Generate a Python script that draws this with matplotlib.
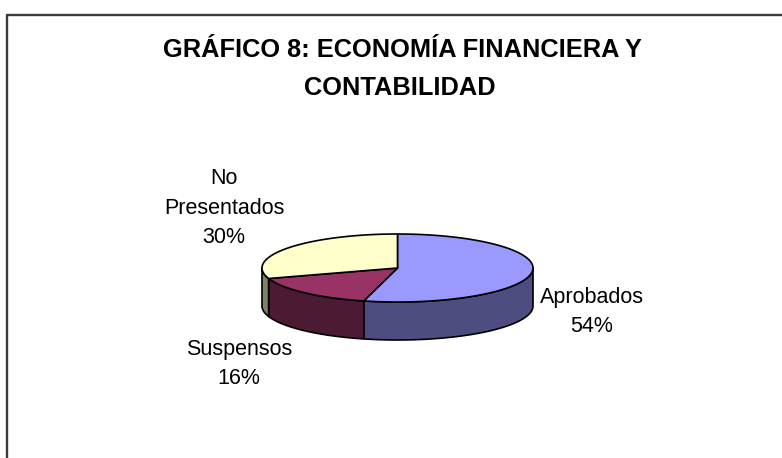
import numpy as np
import matplotlib
matplotlib.use("Agg")
import matplotlib.pyplot as plt
from matplotlib.patches import Polygon

# data
labels = ["Aprobados", "Suspensos", "No\nPresentados"]
values = [54, 16, 30]
top_colors = ["#9999FF", "#993366", "#FFFFCC"]
side_colors = ["#4D4D80", "#4D1A33", "#808066"]

# label centres (pixels) as placed in the original chart
label_pos = [(592, 312), (239, 364), (224, 208)]

plt.rcParams['font.family'] = ['Liberation Sans', 'DejaVu Sans']

fig = plt.figure(figsize=(7.82, 4.58), dpi=100)
ax = fig.add_axes([0, 0, 1, 1])
ax.set_xlim(0, 782)
ax.set_ylim(458, 0)
ax.axis('off')

# chart frame (only top and left visible)
ax.plot([7, 7], [15, 458], color="#3a3a3a", lw=1.7, solid_capstyle='butt')
ax.plot([6, 782], [15, 15], color="#3a3a3a", lw=1.7, solid_capstyle='butt')

ax.text(402, 50, "GRÁFICO 8: ECONOMÍA FINANCIERA Y", ha='center', va='center',
        fontsize=18.3, fontweight='bold')
ax.text(400, 88, "CONTABILIDAD", ha='center', va='center',
        fontsize=18.3, fontweight='bold')

# 3d pie geometry
cx, cy, rx, ry, depth = 397.5, 268, 135.5, 34, 38


def pt(a):
    return cx + rx * np.cos(np.radians(a)), cy - ry * np.sin(np.radians(a))


fracs = np.array(values) / np.sum(values)
starts = 90 - 360 * np.concatenate([[0], np.cumsum(fracs)[:-1]])
ends = starts - 360 * fracs

# sides: only the part of each slice in the front half (-180..0 deg) shows
for s, e, sc in zip(starts, ends, side_colors):
    for off in (0, 360):
        lo = max(e + off, -180)
        hi = min(s + off, 0)
        if hi <= lo:
            continue
        t = np.linspace(lo, hi, 80)
        xs, ys = pt(t)
        poly = np.column_stack([np.r_[xs, xs[::-1]], np.r_[ys, ys[::-1] + depth]])
        ax.add_patch(Polygon(poly, closed=True, fc=sc, ec='black', lw=1.2,
                             joinstyle='round'))

# tops
for s, e, tc in zip(starts, ends, top_colors):
    t = np.linspace(e, s, 200)
    xs, ys = pt(t)
    poly = np.column_stack([np.r_[cx, xs], np.r_[cy, ys]])
    ax.add_patch(Polygon(poly, closed=True, fc=tc, ec='black', lw=1.2,
                         joinstyle='round'))

for (x, y), lab, v in zip(label_pos, labels, values):
    ax.text(x, y, f"{lab}\n{v}%", ha='center', va='center', fontsize=15.5,
            linespacing=1.55)

fig.savefig("out.png", dpi=100)
